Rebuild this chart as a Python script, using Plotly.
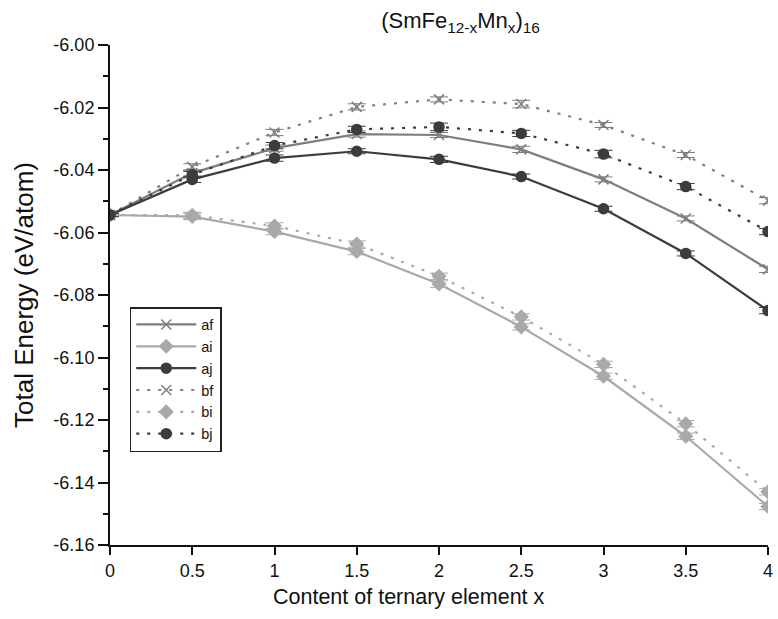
import plotly.graph_objects as go

x_vals = [0, 0.5, 1, 1.5, 2, 2.5, 3, 3.5, 4]
x_labels = ["0", "0.5", "1", "1.5", "2", "2.5", "3", "3.5", "4"]
y_ticks = [-6.16, -6.14, -6.12, -6.10, -6.08, -6.06, -6.04, -6.02, -6.00]
y_labels = ["-6.16", "-6.14", "-6.12", "-6.10", "-6.08", "-6.06", "-6.04", "-6.02", "-6.00"]

af = [-6.0544, -6.0410, -6.0330, -6.0285, -6.0288, -6.0334, -6.0430, -6.0555, -6.0718]
ai = [-6.0544, -6.0549, -6.0597, -6.0661, -6.0765, -6.0902, -6.1060, -6.1252, -6.1477]
aj = [-6.0544, -6.0430, -6.0362, -6.0340, -6.0366, -6.0421, -6.0524, -6.0667, -6.0850]
bf = [-6.0544, -6.0390, -6.0280, -6.0198, -6.0174, -6.0189, -6.0256, -6.0352, -6.0498]
bi = [-6.0544, -6.0545, -6.0579, -6.0637, -6.0740, -6.0870, -6.1022, -6.1212, -6.1430]
bj = [-6.0544, -6.0415, -6.0322, -6.0270, -6.0262, -6.0283, -6.0349, -6.0453, -6.0597]

err_af = [0.0005, 0.0010, 0.0010, 0.0010, 0.0008, 0.0010, 0.0008, 0.0008, 0.0010]
err_ai = [0.0005, 0.0010, 0.0010, 0.0010, 0.0010, 0.0010, 0.0010, 0.0010, 0.0010]
err_aj = [0.0005, 0.0010, 0.0010, 0.0008, 0.0010, 0.0008, 0.0008, 0.0008, 0.0010]
err_bf = [0.0005, 0.0010, 0.0010, 0.0010, 0.0008, 0.0012, 0.0008, 0.0008, 0.0010]
err_bi = [0.0005, 0.0010, 0.0010, 0.0010, 0.0010, 0.0010, 0.0010, 0.0010, 0.0010]
err_bj = [0.0005, 0.0010, 0.0010, 0.0010, 0.0012, 0.0010, 0.0012, 0.0010, 0.0010]

series_names = ["af", "ai", "aj", "bf", "bi", "bj"]

MID = "#7e7e7e"
LIGHT = "#a9a9a9"
DARK = "#3c3c3c"
DOTS = "3px,8px"

styles = {
    "af": dict(color=MID, dash="solid", symbol="x-thin-open", size=10, data=af, err=err_af),
    "ai": dict(color=LIGHT, dash="solid", symbol="diamond", size=10, data=ai, err=err_ai),
    "aj": dict(color=DARK, dash="solid", symbol="circle", size=10, data=aj, err=err_aj),
    "bf": dict(color=MID, dash=DOTS, symbol="x-thin-open", size=10, data=bf, err=err_bf),
    "bi": dict(color=LIGHT, dash=DOTS, symbol="diamond", size=10, data=bi, err=err_bi),
    "bj": dict(color=DARK, dash=DOTS, symbol="circle", size=10, data=bj, err=err_bj),
}

fig = go.Figure()
for name in series_names:
    s = styles[name]
    fig.add_trace(go.Scatter(
        x=x_vals, y=s["data"], name=name, mode="lines+markers",
        line=dict(color=s["color"], width=2.2, dash=s["dash"]),
        marker=dict(symbol=s["symbol"], size=s["size"], color=s["color"],
                    line=dict(color=s["color"], width=1.5)),
        error_y=dict(type="data", array=s["err"], visible=True,
                     color=s["color"], thickness=1, width=9),
    ))

FONT = "Liberation Sans, Arial, sans-serif"
INK = "#111111"

fig.update_layout(
    width=778, height=619,
    margin=dict(l=110, r=5, t=45, b=74),
    paper_bgcolor="white", plot_bgcolor="white",
    font=dict(family=FONT, color=INK),
    title=dict(text="(SmFe<sub>12-x</sub>Mn<sub>x</sub>)<sub>16</sub>",
               x=0.592, xanchor="center", y=0.967, yanchor="middle",
               font=dict(size=22, family=FONT, color=INK)),
    legend=dict(x=0.03, y=0.476, xanchor="left", yanchor="top",
                bordercolor="#222222", borderwidth=1.5, bgcolor="white",
                font=dict(size=14.5, family=FONT, color=INK),
                itemwidth=60, tracegroupgap=0),
    showlegend=True,
    annotations=[dict(
        text="Content of ternary element x", xref="paper", yref="paper",
        x=0.455, y=-0.104, xanchor="center", yanchor="middle", showarrow=False,
        font=dict(size=21.5, family=FONT, color=INK),
    )],
)

fig.update_xaxes(
    range=[0, 4], tickvals=x_vals, ticktext=x_labels,
    showgrid=False, zeroline=False, showline=True, linecolor=INK, linewidth=2,
    ticks="outside", ticklen=8, tickwidth=2, tickcolor=INK,
    ticklabeloverflow="allow",
    tickfont=dict(size=18, family=FONT, color=INK),
)
fig.update_yaxes(
    range=[-6.16, -6.00], tickvals=y_ticks, ticktext=y_labels,
    showgrid=False, zeroline=False, showline=True, linecolor=INK, linewidth=2,
    ticks="outside", ticklen=10, tickwidth=2, tickcolor=INK,
    minor=dict(dtick=0.01, tick0=-6.16, ticks="outside", ticklen=5, tickwidth=2, tickcolor=INK, showgrid=False),
    tickfont=dict(size=18, family=FONT, color=INK),
    title=dict(text="Total Energy (eV/atom)", font=dict(size=26, family=FONT, color=INK), standoff=12),
)

fig.write_html("out.html")
